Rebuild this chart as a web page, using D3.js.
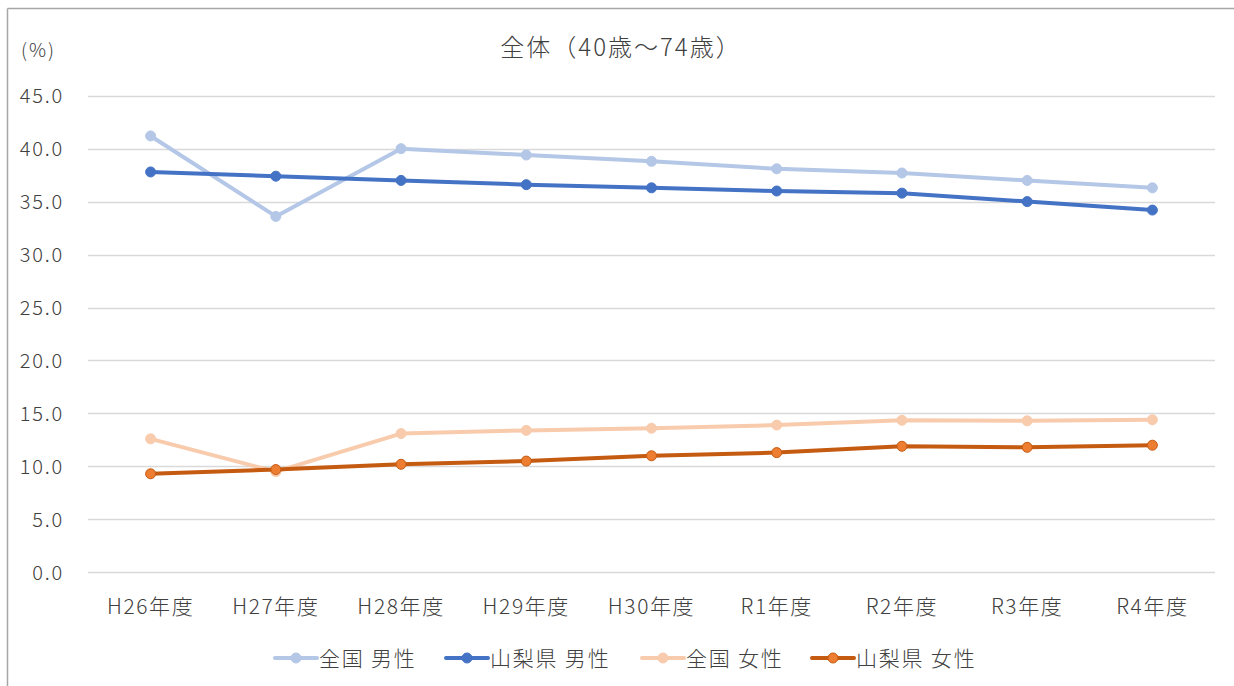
<!DOCTYPE html>
<html><head><meta charset="utf-8">
<script src="https://cdn.jsdelivr.net/npm/d3@7"></script>
<style>body{margin:0;background:#fff;}svg{display:block;font-family:"Noto Sans CJK JP","Noto Sans",sans-serif;font-weight:300;}</style>
</head><body>
<svg id="c" width="1234" height="686"></svg>
<script>
const categories = ["H26年度","H27年度","H28年度","H29年度","H30年度","R1年度","R2年度","R3年度","R4年度"];
const zenkokuMale   = [41.2,33.6,40.0,39.4,38.8,38.1,37.7,37.0,36.3];
const yamanashiMale = [37.8,37.4,37.0,36.6,36.3,36.0,35.8,35.0,34.2];
const zenkokuFemale = [12.6,9.5,13.1,13.4,13.6,13.9,14.35,14.3,14.4];
const yamanashiFemale=[9.3,9.7,10.2,10.5,11.0,11.3,11.9,11.8,12.0];
const yTicks = [0,5,10,15,20,25,30,35,40,45];
const seriesNames = ["全国 男性","山梨県 男性","全国 女性","山梨県 女性"];

const series = [
  {name:seriesNames[0], values:zenkokuMale, line:"#B4C7E7", fill:"#B4C7E7", stroke:"#B4C7E7"},
  {name:seriesNames[1], values:yamanashiMale, line:"#4472C4", fill:"#4472C4", stroke:"#4472C4"},
  {name:seriesNames[2], values:zenkokuFemale, line:"#F8CBAD", fill:"#F8CBAD", stroke:"#F8CBAD"},
  {name:seriesNames[3], values:yamanashiFemale, line:"#C55A11", fill:"#ED7D31", stroke:"#C55A11"}
];

const svg = d3.select("#c");
// border
svg.append("line").attr("x1",7.5).attr("x2",1234).attr("y1",8.5).attr("y2",8.5).attr("stroke","#A6A6A6").attr("stroke-width",1.5);
svg.append("line").attr("x1",7.5).attr("x2",7.5).attr("y1",8.5).attr("y2",686).attr("stroke","#A6A6A6").attr("stroke-width",1.5);

const x = d3.scaleBand().domain(categories).range([88,1215]);
const y = d3.scaleLinear().domain([0,45]).range([572.3,95.7]);

// grid
svg.append("g").selectAll("line").data(yTicks).join("line")
  .attr("x1",88).attr("x2",1215)
  .attr("y1",d=>Math.round(y(d))+0.5).attr("y2",d=>Math.round(y(d))+0.5)
  .attr("stroke","#D9D9D9").attr("stroke-width",1.3);

// y axis labels
const yAxis = d3.axisLeft(y).tickValues(yTicks).tickFormat(d3.format(".1f")).tickSize(0).tickPadding(0);
const ga = svg.append("g").attr("transform","translate(64,0)").call(yAxis);
ga.select(".domain").remove();
ga.selectAll("text").attr("font-size",20).attr("letter-spacing",1.8).attr("fill","#404040")
  .attr("font-family","'Noto Sans CJK JP',sans-serif").attr("font-weight",300).attr("dy","0.36em");

// x axis labels
const xAxis = d3.axisBottom(x).tickSize(0).tickPadding(0);
const gx = svg.append("g").attr("transform","translate(0,599)").call(xAxis);
gx.select(".domain").remove();
gx.selectAll("text").attr("font-size",21).attr("letter-spacing",1.6).attr("fill","#404040")
  .attr("font-family","'Noto Sans CJK JP',sans-serif").attr("font-weight",300);

// lines
const cx = d => x(d) + x.bandwidth()/2;
const line = d3.line().x((v,i)=>cx(categories[i])).y(v=>y(v));
series.forEach(s=>{
  svg.append("path").attr("d",line(s.values)).attr("fill","none")
    .attr("stroke",s.line).attr("stroke-width",4).attr("stroke-linejoin","round").attr("stroke-linecap","round");
  svg.append("g").selectAll("circle").data(s.values).join("circle")
    .attr("cx",(v,i)=>cx(categories[i])).attr("cy",v=>y(v)).attr("r",5)
    .attr("fill",s.fill).attr("stroke",s.stroke).attr("stroke-width",1);
});

// title
svg.append("text").attr("x",621).attr("y",56).attr("text-anchor","middle")
  .attr("font-size",24).attr("letter-spacing",2).attr("fill","#404040").text("全体（40歳～74歳）");
svg.append("text").attr("x",21).attr("y",57)
  .attr("font-size",19).attr("letter-spacing",2).attr("fill","#404040").text("(%)");

// legend
const legendX = [275,446,642,812];
series.forEach((s,i)=>{
  const g = svg.append("g").attr("transform",`translate(${legendX[i]},658)`);
  g.append("line").attr("x1",0).attr("x2",42).attr("y1",0).attr("y2",0).attr("stroke",s.line).attr("stroke-width",4).attr("stroke-linecap","round");
  g.append("circle").attr("cx",21).attr("cy",0).attr("r",5).attr("fill",s.fill).attr("stroke",s.stroke);
  g.append("text").attr("x",44).attr("y",8).attr("font-size",21).attr("letter-spacing",1.8).attr("fill","#404040").text(s.name);
});
</script>
</body></html>
